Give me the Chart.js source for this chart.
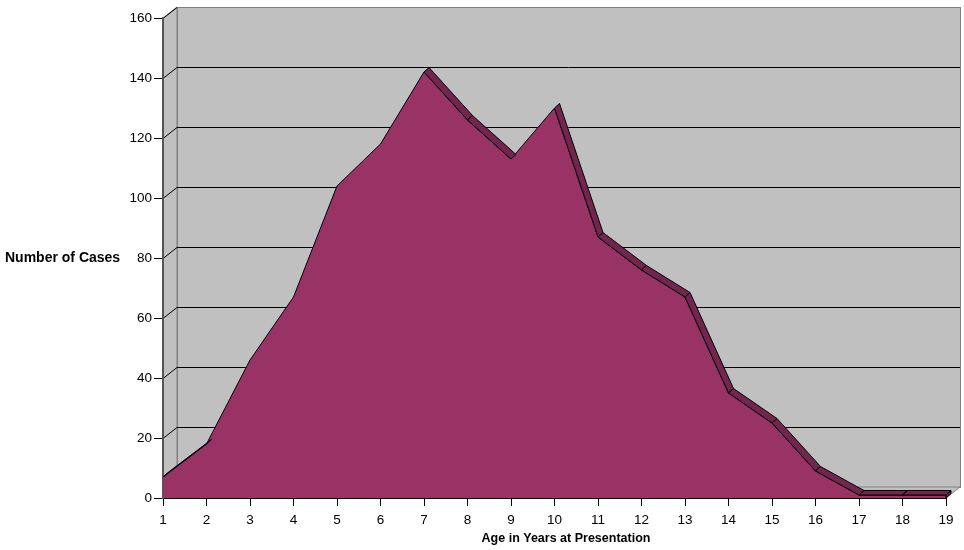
<!DOCTYPE html>
<html>
<head>
<meta charset="utf-8">
<script src="https://cdn.jsdelivr.net/npm/chart.js@4.4.1/dist/chart.umd.min.js"></script>
<style>
  html, body { margin: 0; padding: 0; background: #fff; }
  #wrap { width: 964px; height: 550px; position: relative; }
</style>
</head>
<body>
<div id="wrap"><canvas id="ageChart"></canvas></div>
<script>
// cases by age at presentation
var ages = ['1','2','3','4','5','6','7','8','9','10','11','12','13','14','15','16','17','18','19'];
var cases = [7, 18, 46, 67, 104, 118, 142, 126, 113, 130, 87, 76, 67, 35, 25, 9, 1, 1, 1];
var yTicks = [0, 20, 40, 60, 80, 100, 120, 140, 160];

var FONT = "'Liberation Sans', Arial, sans-serif";
var DEPTH = { x: 14, y: -11 };     // back wall offset
var SLAB = { x: 5, y: -4.5 };      // thickness of the area ribbon

// walls, floor and gridlines of the fake 3d box
var walls = {
  id: 'walls',
  beforeDraw: function(chart){
    var c = chart.ctx, a = chart.chartArea, y = chart.scales.y;
    var dx = DEPTH.x, dy = DEPTH.y;
    c.save();
    c.fillStyle = '#c0c0c0';
    c.strokeStyle = '#808080';
    c.lineWidth = 1;
    // back wall
    c.fillRect(a.left + dx, a.top + dy, a.right - a.left, a.bottom - a.top);
    c.strokeRect(a.left + dx + 0.5, a.top + dy + 0.5, a.right - a.left, a.bottom - a.top);
    // side wall
    c.beginPath();
    c.moveTo(a.left, a.bottom); c.lineTo(a.left, a.top);
    c.lineTo(a.left + dx, a.top + dy); c.lineTo(a.left + dx, a.bottom + dy);
    c.closePath(); c.fill(); c.stroke();
    // floor
    c.beginPath();
    c.moveTo(a.left, a.bottom); c.lineTo(a.right, a.bottom);
    c.lineTo(a.right + dx, a.bottom + dy); c.lineTo(a.left + dx, a.bottom + dy);
    c.closePath(); c.fill(); c.stroke();
    // gridlines
    c.strokeStyle = '#000';
    yTicks.forEach(function(v){
      if (v === 0) return;
      var py = Math.round(y.getPixelForValue(v)) + 0.5;
      c.beginPath();
      c.moveTo(a.left, py);
      c.lineTo(a.left + dx, py + dy);
      if (v < 160) c.lineTo(a.right + dx, py + dy);
      c.stroke();
    });
    c.restore();
  },
  afterDraw: function(chart){
    var c = chart.ctx;
    c.save();
    c.fillStyle = '#000';
    c.font = 'bold 14px ' + FONT;
    c.textBaseline = 'middle';
    c.fillText('Number of Cases', 5, 258);
    c.font = 'bold 12.5px ' + FONT;
    c.textAlign = 'center';
    c.fillText('Age in Years at Presentation', 566, 539);
    c.restore();
  }
};

// dark top ribbon of the area, only where it faces the viewer
var ribbon = {
  id: 'ribbon',
  afterDatasetsDraw: function(chart){
    var pts = chart.getDatasetMeta(0).data;
    var c = chart.ctx, sx = SLAB.x, sy = SLAB.y;
    var base = chart.scales.y.getPixelForValue(0);
    c.save();
    c.fillStyle = '#72264f';
    c.strokeStyle = '#000';
    c.lineWidth = 1;
    c.lineJoin = 'round';
    for (var i = 0; i < pts.length - 1; i++){
      var p = pts[i], q = pts[i + 1];
      var cross = (q.x - p.x) * sy - (q.y - p.y) * sx;
      if (cross >= 0) continue;
      c.beginPath();
      c.moveTo(p.x, p.y); c.lineTo(q.x, q.y);
      c.lineTo(q.x + sx, q.y + sy); c.lineTo(p.x + sx, p.y + sy);
      c.closePath(); c.fill(); c.stroke();
    }
    // right end face
    var e = pts[pts.length - 1];
    c.beginPath();
    c.moveTo(e.x, e.y); c.lineTo(e.x + sx, e.y + sy);
    c.lineTo(e.x + sx, base + sy); c.lineTo(e.x, base);
    c.closePath(); c.fill(); c.stroke();
    c.restore();
  }
};

new Chart(document.getElementById('ageChart'), {
  type: 'line',
  data: {
    labels: ages,
    datasets: [{
      data: cases,
      fill: 'origin',
      backgroundColor: '#993366',
      borderColor: '#000',
      borderWidth: 1,
      pointRadius: 0,
      tension: 0
    }]
  },
  options: {
    responsive: true,
    maintainAspectRatio: false,
    animation: false,
    layout: { padding: { top: 18, right: 18, left: 0, bottom: 0 } },
    plugins: { legend: { display: false }, tooltip: { enabled: false } },
    scales: {
      x: {
        z: 1,
        offset: false,
        afterFit: function(s){ s.height = 52; },
        grid: { drawOnChartArea: false, drawTicks: true, tickLength: 8, color: '#000' },
        border: { display: true, color: '#000', width: 2 },
        ticks: { color: '#000', font: { family: FONT, size: 13.5 }, padding: 6, maxRotation: 0, autoSkip: false }
      },
      y: {
        z: 1,
        min: 0, max: 160,
        afterFit: function(s){ s.width = 163; },
        afterBuildTicks: function(s){ s.ticks = yTicks.map(function(v){ return { value: v }; }); },
        grid: { drawOnChartArea: false, drawTicks: true, tickLength: 9, color: '#000' },
        border: { display: true, color: '#555', width: 2 },
        ticks: { color: '#000', font: { family: FONT, size: 13.5 }, padding: 2 }
      }
    }
  },
  plugins: [walls, ribbon]
});
</script>
</body>
</html>
